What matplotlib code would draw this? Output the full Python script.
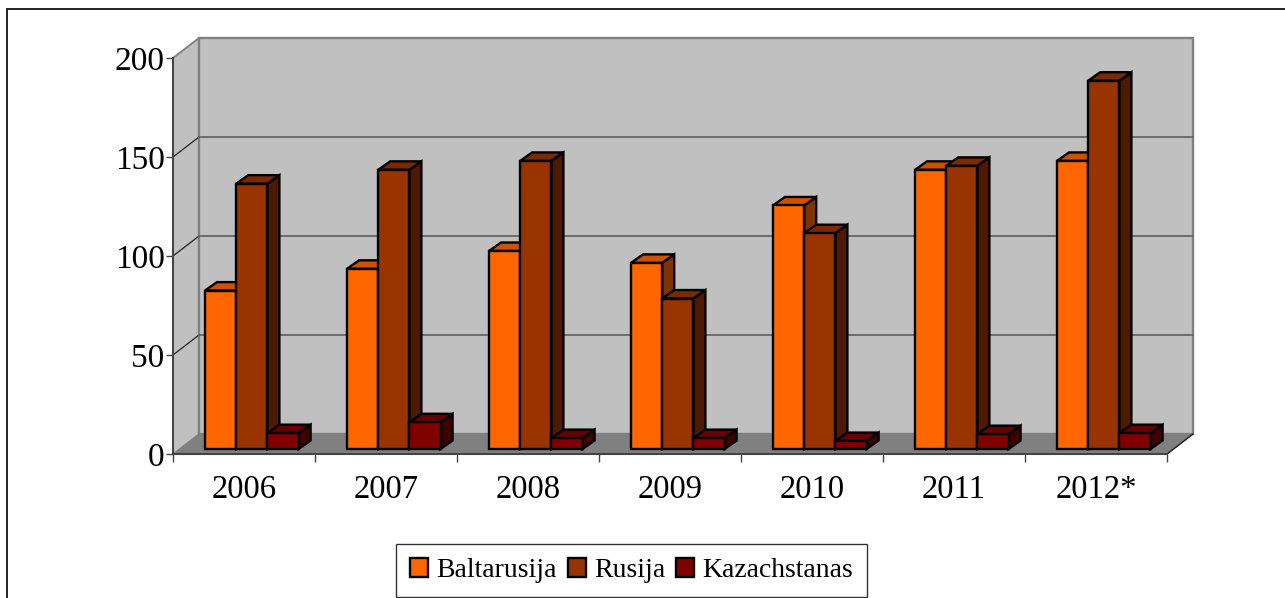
import matplotlib as mpl
mpl.use('Agg')
import matplotlib.pyplot as plt
from matplotlib.lines import Line2D
from matplotlib.patches import Patch, Polygon

mpl.rc('font', family='Liberation Serif')

years = ['2006', '2007', '2008', '2009', '2010', '2011', '2012*']
baltarusija = [80, 91, 100, 94, 123, 141, 145.5]
rusija = [134, 141, 145.5, 76, 109, 143, 186]
kazachstanas = [8, 13.5, 5.5, 5.5, 4, 7.5, 8]
names = ['Baltarusija', 'Rusija', 'Kazachstanas']
yticks = [0, 50, 100, 150, 200]

# front, top, side colours
colors = [('#ff6600', '#cc5200', '#7f3300'),
          ('#993300', '#7a2900', '#4d1a00'),
          ('#800000', '#660000', '#400000')]

W, H = 1285, 598
fig = plt.figure(figsize=(W / 100, H / 100), dpi=100)

# outer border, only top and left are in the picture
fig.add_artist(Line2D([6.5 / W, 6.5 / W, 1], [0, 1 - 8.5 / H, 1 - 8.5 / H], color='#222222', lw=1.4,
                      solid_joinstyle='miter'))

ax = fig.add_axes([173 / W, 1 - 454 / H, (1167 - 173) / W, (454 - 58) / H])
ax.set_xlim(0, 7)
ax.set_ylim(0, 200)
ax.set_facecolor('none')

# depth of the 3d box in data units
px_x = 7 / 994
px_y = 200 / 396
dx = 26 * px_x
dy = 20 * px_y


def poly(pts, fc, ec, lw, z):
    ax.add_patch(Polygon(pts, closed=True, fc=fc, ec=ec, lw=lw, zorder=z,
                         clip_on=False, joinstyle='miter'))


# walls and floor
poly([(0, 0), (dx, dy), (dx, 200 + dy), (0, 200)], '#c0c0c0', 'none', 0, 1)
poly([(dx, dy), (7 + dx, dy), (7 + dx, 200 + dy), (dx, 200 + dy)], '#c0c0c0', '#808080', 1.7, 1)
poly([(0, 0), (dx, dy), (7 + dx, dy), (7, 0)], '#808080', '#808080', 1.0, 1)
ax.plot([7, 7 + dx], [0, dy], color='#222222', lw=1, zorder=2, clip_on=False)

for v in yticks[1:-1]:
    ax.plot([0, dx], [v, v + dy], color='#222222', lw=0.9, zorder=2, clip_on=False)
    ax.plot([dx, 7 + dx], [v + dy, v + dy], color='#666666', lw=1.3, zorder=2, clip_on=False)
ax.plot([0, dx], [200, 200 + dy], color='#808080', lw=1.3, zorder=2, clip_on=False)

# bars
bar_w = 31.2 * px_x
bar_x0 = 32 * px_x
bar_y0 = 5 * px_y
bdx = 12 * px_x
bdy = 8.5 * px_y
series = [baltarusija, rusija, kazachstanas]
z = 3
for i in range(len(years)):
    for s, vals in enumerate(series):
        x0 = i + bar_x0 + s * bar_w
        x1 = x0 + bar_w
        y0 = bar_y0
        y1 = bar_y0 + vals[i]
        front, top, side = colors[s]
        poly([(x1, y0), (x1 + bdx, y0 + bdy), (x1 + bdx, y1 + bdy), (x1, y1)], side, 'black', 1.7, z)
        poly([(x0, y1), (x1, y1), (x1 + bdx, y1 + bdy), (x0 + bdx, y1 + bdy)], top, 'black', 1.7, z)
        poly([(x0, y0), (x1, y0), (x1, y1), (x0, y1)], front, 'black', 1.7, z)
        z += 1

for sp in ['top', 'right']:
    ax.spines[sp].set_visible(False)
for sp in ['left', 'bottom']:
    ax.spines[sp].set_color('#444444')
    ax.spines[sp].set_linewidth(1.5)
    ax.spines[sp].set_zorder(50)

ax.set_yticks(yticks)
ax.set_xticks(range(8))
ax.set_xticklabels([])
ax.set_xticks([i + 0.5 for i in range(7)], minor=True)
ax.set_xticklabels(years, minor=True)
ax.tick_params(axis='x', which='major', length=6, width=1, color='#444444')
ax.tick_params(axis='x', which='minor', length=0, pad=15, labelsize=23.5)
ax.tick_params(axis='y', length=5, width=1, color='#444444', pad=1, labelsize=24)

handles = [Patch(fc=c[0], ec='black', lw=1.7) for c in colors]
leg = fig.legend(handles, names, ncol=3, loc='center', fontsize=20,
                 bbox_to_anchor=((398 + 865) / 2 / W, 1 - 570.5 / H),
                 fancybox=False, framealpha=1, edgecolor='#333333',
                 handlelength=0.65, handleheight=0.65, handletextpad=0.3,
                 columnspacing=0.4, borderpad=0.5, borderaxespad=0)
leg.get_frame().set_linewidth(1)

plt.savefig('out.png', dpi=100)
